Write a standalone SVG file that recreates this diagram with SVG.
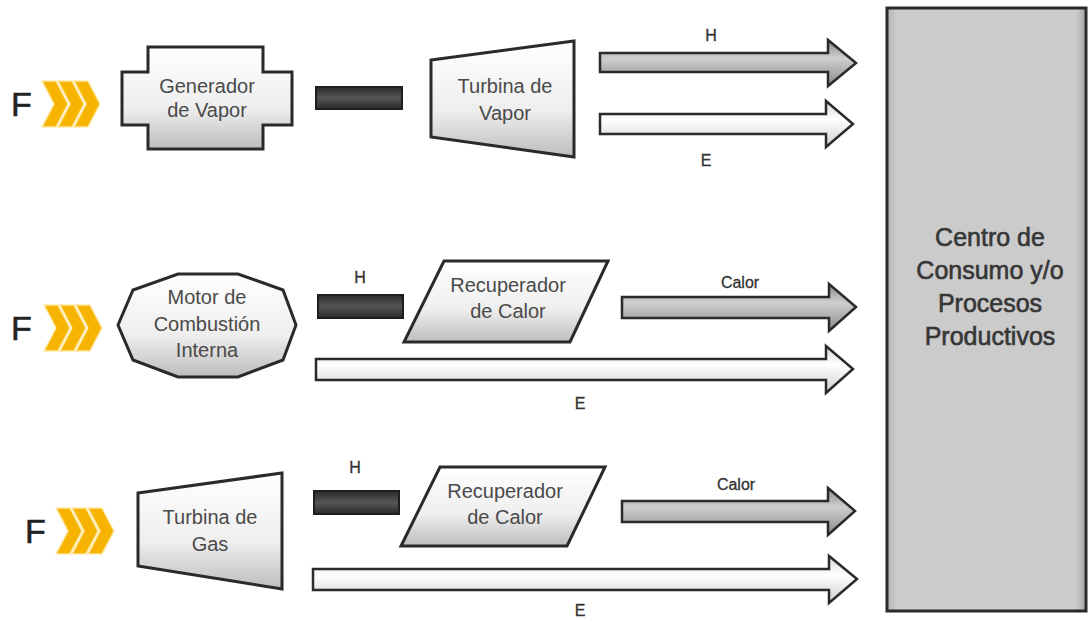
<svg xmlns="http://www.w3.org/2000/svg" width="1088" height="622" viewBox="0 0 1088 622">
<defs>
<style>
.t{font-family:"Liberation Sans",Arial,sans-serif;fill:#4a4a4a;text-anchor:middle}
.n{font-size:20px}
.big{font-size:25px;fill:#363636;stroke:#363636;stroke-width:0.6}
.lbl{font-size:16px;fill:#333;stroke:#333;stroke-width:0.3}
.F{font-family:"Liberation Sans",Arial,sans-serif;font-size:34px;fill:#222;stroke:#222;stroke-width:0.6}
.node{stroke:#2a2a2a;stroke-width:3;fill:url(#gNode)}
.bar{fill:url(#gBar);stroke:#1e1e1e;stroke-width:2}
.ah{fill:url(#gH);stroke:#2a2a2a;stroke-width:2.5;stroke-linejoin:miter}
.ae{fill:url(#gE);stroke:#2a2a2a;stroke-width:2.5;stroke-linejoin:miter}
.chev{fill:#F6B400;stroke:#FFE9A6;stroke-width:1.5}
</style>
<linearGradient id="gNode" x1="0" y1="0" x2="0" y2="1">
<stop offset="0" stop-color="#ffffff"/><stop offset="0.6" stop-color="#eeeeee"/><stop offset="1" stop-color="#bdbdbd"/>
</linearGradient>
<linearGradient id="gBig" x1="0" y1="0" x2="1" y2="0">
<stop offset="0" stop-color="#b5b5b5"/><stop offset="0.05" stop-color="#cbcbcb"/><stop offset="0.95" stop-color="#cbcbcb"/><stop offset="1" stop-color="#a5a5a5"/>
</linearGradient>
<linearGradient id="gBar" x1="0" y1="0" x2="0" y2="1">
<stop offset="0" stop-color="#2a2a2a"/><stop offset="0.5" stop-color="#555"/><stop offset="1" stop-color="#2a2a2a"/>
</linearGradient>
<linearGradient id="gH" x1="0" y1="0" x2="0" y2="1">
<stop offset="0" stop-color="#888"/><stop offset="0.4" stop-color="#cfcfcf"/><stop offset="1" stop-color="#8a8a8a"/>
</linearGradient>
<linearGradient id="gE" x1="0" y1="0" x2="0" y2="1">
<stop offset="0" stop-color="#d8d8d8"/><stop offset="0.4" stop-color="#ffffff"/><stop offset="1" stop-color="#cfcfcf"/>
</linearGradient>
<polygon id="chv" points="0,0 14,0 26,23 14,46 0,46 12,23"/>
</defs>
<rect width="1088" height="622" fill="#ffffff"/>

<g id="consumo">
<rect x="887" y="8" width="199" height="603" fill="url(#gBig)" stroke="#2a2a2a" stroke-width="3"/>
<text class="t big" x="990" y="246">Centro de</text>
<text class="t big" x="990" y="279">Consumo y/o</text>
<text class="t big" x="990" y="312">Procesos</text>
<text class="t big" x="990" y="345">Productivos</text>
</g>

<g id="fuel1">
<text class="F" x="11" y="116">F</text>
<use href="#chv" class="chev" x="42" y="81"/>
<use href="#chv" class="chev" x="58" y="81"/>
<use href="#chv" class="chev" x="74" y="81"/>
</g>
<g id="fuel2">
<text class="F" x="11" y="340">F</text>
<use href="#chv" class="chev" x="44" y="305"/>
<use href="#chv" class="chev" x="60" y="305"/>
<use href="#chv" class="chev" x="76" y="305"/>
</g>
<g id="fuel3">
<text class="F" x="25" y="543">F</text>
<use href="#chv" class="chev" x="56" y="508"/>
<use href="#chv" class="chev" x="72" y="508"/>
<use href="#chv" class="chev" x="88" y="508"/>
</g>

<g id="generador">
<polygon class="node" points="148,47 263,47 263,72 292,72 292,125 263,125 263,149 148,149 148,125 122,125 122,72 148,72"/>
<text class="t n" x="207" y="93">Generador</text>
<text class="t n" x="207" y="117">de Vapor</text>
</g>

<g id="turbina-vapor">
<polygon class="node" points="431,60 574,41 574,157 431,137"/>
<text class="t n" x="505" y="93">Turbina de</text>
<text class="t n" x="505" y="120">Vapor</text>
</g>

<g id="motor">
<polygon class="node" points="118,325 133,290 178,274 238,274 283,290 296,325 283,360 238,377 178,377 133,360"/>
<text class="t n" x="207" y="304">Motor de</text>
<text class="t n" x="207" y="331">Combustión</text>
<text class="t n" x="207" y="357">Interna</text>
</g>

<g id="recuperador1">
<polygon class="node" points="444,261 608,261 570,342 404,342"/>
<text class="t n" x="508" y="292">Recuperador</text>
<text class="t n" x="508" y="318">de Calor</text>
</g>

<g id="turbina-gas">
<polygon class="node" points="138,493 282,473 282,589 138,566"/>
<text class="t n" x="210" y="524">Turbina de</text>
<text class="t n" x="210" y="551">Gas</text>
</g>

<g id="recuperador2">
<polygon class="node" points="440,467 605,467 567,546 401,546"/>
<text class="t n" x="505" y="498">Recuperador</text>
<text class="t n" x="505" y="524">de Calor</text>
</g>

<g id="connectors">
<rect class="bar" x="316" y="87" width="86" height="22"/>
<rect class="bar" x="318" y="295" width="85" height="23"/>
<rect class="bar" x="314" y="491" width="85" height="23"/>

<polygon class="ah" points="600,53 828,53 828,40 856,63 828,86 828,72 600,72"/>
<polygon class="ae" points="600,114 826,114 826,101 853,124 826,147 826,134 600,134"/>
<polygon class="ah" points="622,297 829,297 829,284 856,307 829,331 829,318 622,318"/>
<polygon class="ae" points="316,359 826,359 826,346 853,369 826,393 826,380 316,380"/>
<polygon class="ah" points="622,501 828,501 828,488 855,511 828,535 828,522 622,522"/>
<polygon class="ae" points="313,569 829,569 829,556 857,579 829,603 829,590 313,590"/>

<text class="t lbl" x="711" y="41">H</text>
<text class="t lbl" x="706" y="166">E</text>
<text class="t lbl" x="360" y="283">H</text>
<text class="t lbl" x="740" y="288">Calor</text>
<text class="t lbl" x="580" y="409">E</text>
<text class="t lbl" x="355" y="473">H</text>
<text class="t lbl" x="736" y="490">Calor</text>
<text class="t lbl" x="580" y="616">E</text>
</g>
</svg>
